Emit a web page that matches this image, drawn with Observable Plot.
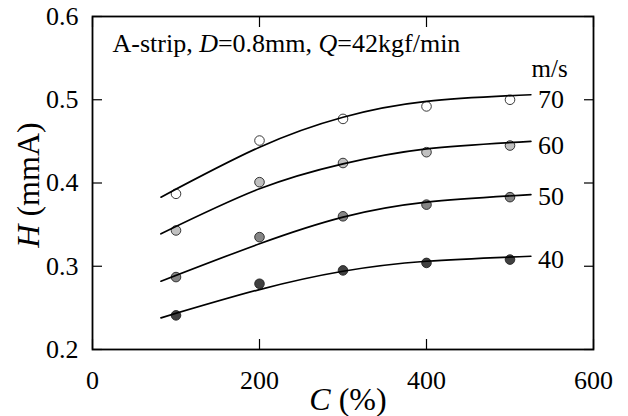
<!DOCTYPE html>
<html>
<head>
<meta charset="utf-8">
<script src="https://cdn.jsdelivr.net/npm/d3@7"></script>
<script src="https://cdn.jsdelivr.net/npm/@observablehq/plot@0.6"></script>
<style>
  html, body { margin: 0; padding: 0; background: white; }
  svg text, svg tspan { white-space: pre; font-family: "Liberation Serif", "Times New Roman", serif !important; }
</style>
</head>
<body>
<div id="chart"></div>
<script>
// Data
const speeds = ["70", "60", "50", "40"];
const fills = ["#ffffff", "#c0c0c0", "#858585", "#404040"];
const C = [100, 200, 300, 400, 500];
const H70 = [0.387, 0.451, 0.477, 0.492, 0.500];
const H60 = [0.343, 0.401, 0.424, 0.437, 0.445];
const H50 = [0.287, 0.335, 0.360, 0.374, 0.383];
const H40 = [0.241, 0.279, 0.295, 0.304, 0.308];
// fitted curves
const fitC = [82, 200, 300, 400, 525];
const fit70 = [0.383, 0.443, 0.479, 0.498, 0.506];
const fit60 = [0.339, 0.393, 0.423, 0.441, 0.450];
const fit50 = [0.282, 0.327, 0.359, 0.377, 0.386];
const fit40 = [0.238, 0.272, 0.294, 0.306, 0.312];
const xTicks = [0, 200, 400, 600];
const yTicks = [0.2, 0.3, 0.4, 0.5, 0.6];
const noteParts = [["A-strip, ", false], ["D", true], ["=0.8mm, ", false], ["Q", true], ["=42kgf/min", false]];
const xLabelParts = [["C", true], [" (%)", false]];
const yLabelParts = [["H", true], [" (mmA)", false]];
const unitLabel = "m/s";

const seriesH = [H70, H60, H50, H40];
const seriesFit = [fit70, fit60, fit50, fit40];
const points = speeds.flatMap((s, i) => C.map((c, j) => ({s, c, h: seriesH[i][j]})));
const fits = speeds.flatMap((s, i) => fitC.map((c, j) => ({s, c, h: seriesFit[i][j]})));
const labels = speeds.map((s, i) => ({s, c: fitC[fitC.length - 1], h: seriesH[i][C.length - 1]}));
const plain = parts => parts.map(p => p[0]).join("");
const serif = "Liberation Serif";

const svg = Plot.plot({
  width: 628,
  height: 416,
  marginLeft: 92,
  marginRight: 35,
  marginTop: 16,
  marginBottom: 67,
  style: {fontFamily: serif, fontSize: "26px", background: "white", color: "black"},
  x: {domain: [0, 600]},
  y: {domain: [0.2, 0.6]},
  color: {domain: speeds, range: fills},
  marks: [
    Plot.axisX({anchor: "bottom", ticks: xTicks, tickSize: -10, tickPadding: 31, tickFormat: d => String(d), label: null, fontSize: 26, fontFamily: serif, strokeWidth: 1.2}),
    Plot.axisX({anchor: "top", ticks: xTicks, tickSize: -10, tickFormat: () => "", label: null, strokeWidth: 1.2}),
    Plot.axisY({anchor: "left", ticks: yTicks, tickSize: -10, tickPadding: 24, tickFormat: d3.format(".1f"), label: null, fontSize: 26, fontFamily: serif, strokeWidth: 1.2}),
    Plot.axisY({anchor: "right", ticks: yTicks, tickSize: -10, tickFormat: () => "", label: null, strokeWidth: 1.2}),
    Plot.frame({stroke: "black", strokeWidth: 1.8}),
    Plot.dot(points, {x: "c", y: "h", fill: "s", r: 4.8, stroke: "#222", strokeWidth: 0.9}),
    Plot.line(fits, {x: "c", y: "h", z: "s", curve: "natural", stroke: "black", strokeWidth: 1.7}),
    Plot.text(labels, {x: "c", y: "h", text: "s", dx: 7, textAnchor: "start", fontSize: 26, fontFamily: serif}),
    Plot.text([unitLabel], {frameAnchor: "top-right", textAnchor: "start", lineAnchor: "middle", dx: -62, dy: 52, fontSize: 25, fontFamily: serif}),
    Plot.text([plain(noteParts)], {frameAnchor: "top-left", textAnchor: "start", lineAnchor: "middle", dx: 20, dy: 27, fontSize: 26, fontFamily: serif}),
    Plot.text([plain(xLabelParts)], {frameAnchor: "bottom", textAnchor: "middle", lineAnchor: "middle", dx: 5, dy: 50, fontSize: 32, fontFamily: serif}),
    Plot.text([plain(yLabelParts)], {frameAnchor: "left", textAnchor: "middle", lineAnchor: "middle", dx: -64, dy: 2, rotate: -90, fontSize: 32, fontFamily: serif})
  ]
});

function richify(root, parts) {
  const full = plain(parts);
  d3.select(root).selectAll("text").filter(function() { return this.textContent === full; }).each(function() {
    const t = d3.select(this);
    t.text(null);
    parts.forEach(([s, it]) => t.append("tspan").attr("font-style", it ? "italic" : null).text(s));
  });
}
richify(svg, noteParts);
richify(svg, xLabelParts);
richify(svg, yLabelParts);

document.getElementById("chart").appendChild(svg);
</script>
</body>
</html>
